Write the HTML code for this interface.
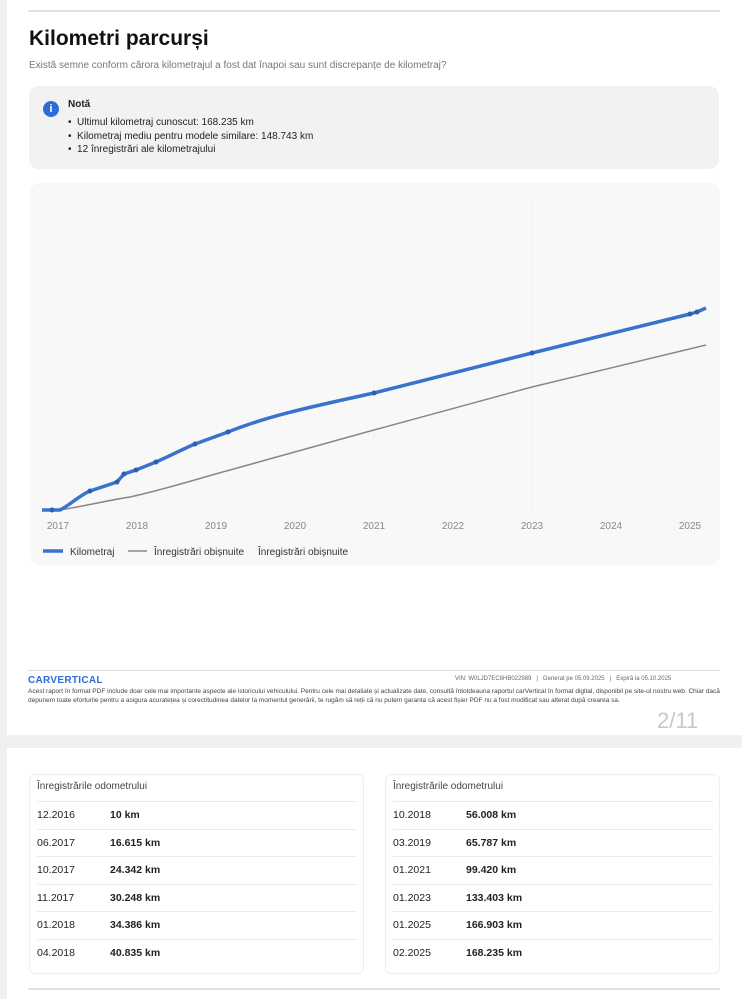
<!DOCTYPE html>
<html><head><meta charset="utf-8"><style>
*{margin:0;padding:0;box-sizing:border-box}
body{width:742px;height:999px;background:#f0f0f0;font-family:"Liberation Sans",sans-serif;position:relative;overflow:hidden;color:#222}
.abs{position:absolute}
.page{position:absolute;background:#fff}
.row{position:absolute;left:0;right:0;height:27px;border-top:1px solid #ececec;font-size:10.5px;line-height:27px}
.row span{position:absolute}
</style></head><body>
<div class="page" style="left:7px;top:0;width:735px;height:735px"></div>
<div class="page" style="left:7px;top:748px;width:735px;height:251px"></div>
<div class="abs" style="left:28px;top:10px;width:692px;height:2px;background:#e2e2e2"></div>
<div class="abs" style="left:29px;top:27px;font-size:21px;font-weight:bold;color:#111">Kilometri parcurși</div>
<div class="abs" style="left:29px;top:60px;font-size:10px;color:#777">Există semne conform cărora kilometrajul a fost dat înapoi sau sunt discrepanțe de kilometraj?</div>
<div class="abs" style="left:29px;top:86px;width:690px;height:83px;background:#f2f2f2;border-radius:10px"></div>
<div class="abs" style="left:43px;top:101px;width:16px;height:16px;border-radius:50%;background:#2f6bd8;color:#fff;font-size:11px;font-weight:bold;text-align:center;line-height:16px">i</div>
<div class="abs" style="left:68px;top:99px;font-size:10px;font-weight:bold">Notă</div>
<div class="abs" style="left:68px;top:116px;font-size:10px;line-height:13.5px">• &nbsp;Ultimul kilometraj cunoscut: 168.235 km<br>• &nbsp;Kilometraj mediu pentru modele similare: 148.743 km<br>• &nbsp;12 înregistrări ale kilometrajului</div>
<div class="abs" style="left:30px;top:183px;width:690px;height:382px;background:#f8f8f8;border-radius:10px"></div>
<svg class="abs" style="left:0;top:0" width="742" height="600">
<g stroke="#f3f3f3" stroke-width="1">
<line x1="58" y1="195" x2="58" y2="512"/><line x1="137" y1="195" x2="137" y2="512"/><line x1="216" y1="195" x2="216" y2="512"/><line x1="295" y1="195" x2="295" y2="512"/><line x1="374" y1="195" x2="374" y2="512"/><line x1="453" y1="195" x2="453" y2="512"/><line x1="532" y1="195" x2="532" y2="512"/><line x1="611" y1="195" x2="611" y2="512"/><line x1="690" y1="195" x2="690" y2="512"/>
</g>
<path d="M60,510 C90,505 110,500 130,497 C170,488 200,478 230,470 L363,433 L532,387 L706,345" fill="none" stroke="#888" stroke-width="1.5"/>
<path d="M42,510 L60,510 C70,505 80,495 90,491 L117,482 L124,474 L136,470 L156,462 C170,456 185,448 195,444 L228,432 C270,415 320,405 374,393 L532,353 L690,314 L697,312 L706,308" fill="none" stroke="#3a73cc" stroke-width="3.5" stroke-linejoin="round"/>
<g fill="#2c5fb0">
<circle cx="52" cy="510" r="2.5"/><circle cx="90" cy="491" r="2.5"/><circle cx="117" cy="482" r="2.5"/><circle cx="124" cy="474" r="2.5"/><circle cx="136" cy="470" r="2.5"/><circle cx="156" cy="462" r="2.5"/><circle cx="195" cy="444" r="2.5"/><circle cx="228" cy="432" r="2.5"/><circle cx="374" cy="393" r="2.5"/><circle cx="532" cy="353" r="2.5"/><circle cx="690" cy="314" r="2.5"/><circle cx="697" cy="312" r="2.5"/>
</g>
<g font-size="10" fill="#888" text-anchor="middle" font-family="Liberation Sans,sans-serif">
<text x="58" y="529">2017</text><text x="137" y="529">2018</text><text x="216" y="529">2019</text><text x="295" y="529">2020</text><text x="374" y="529">2021</text><text x="453" y="529">2022</text><text x="532" y="529">2023</text><text x="611" y="529">2024</text><text x="690" y="529">2025</text>
</g>
<line x1="43" y1="551" x2="63" y2="551" stroke="#3a73cc" stroke-width="3.5"/>
<line x1="128" y1="551" x2="147" y2="551" stroke="#888" stroke-width="1.5"/>
<g font-size="10" fill="#333" font-family="Liberation Sans,sans-serif">
<text x="70" y="555">Kilometraj</text><text x="154" y="555">Înregistrări obișnuite</text><text x="258" y="555">Înregistrări obișnuite</text>
</g>
</svg>
<div class="abs" style="left:28px;top:670px;width:692px;height:1px;background:#ddd"></div>
<div class="abs" style="left:28px;top:675px;font-size:10px;font-weight:bold;color:#2f6bd8;letter-spacing:0.3px">CARVERTICAL</div>
<div class="abs" style="left:455px;top:676px;font-size:6px;color:#666">VIN: W0LJD7EC6HB022989 &nbsp;&nbsp;|&nbsp;&nbsp; Generat pe 05.09.2025 &nbsp;&nbsp;|&nbsp;&nbsp; Expiră la 05.10.2025</div>
<div class="abs" style="left:28px;top:688px;width:692px;font-size:6.5px;line-height:8.5px;color:#444">Acest raport în format PDF include doar cele mai importante aspecte ale istoricului vehiculului. Pentru cele mai detaliate și actualizate date, consultă întotdeauna raportul carVertical în format digital, disponibil pe site-ul nostru web. Chiar dacă depunem toate eforturile pentru a asigura acuratețea și corectitudinea datelor la momentul generării, te rugăm să reții că nu putem garanta că acest fișier PDF nu a fost modificat sau alterat după crearea sa.</div>
<div class="abs" style="left:657px;top:708px;font-size:22px;color:#c8c8c8">2/11</div>

<div class="abs" style="left:29px;top:774px;width:335px;height:200px;border:1px solid #eee;border-radius:6px">
<div class="abs" style="left:7px;top:6px;font-size:10px;color:#444">Înregistrările odometrului</div>
<div class="abs" style="left:7px;top:26px;width:320px;height:170px">
<div class="row" style="top:0"><span>12.2016</span><span style="left:73px;font-weight:bold">10 km</span></div>
<div class="row" style="top:28px"><span>06.2017</span><span style="left:73px;font-weight:bold">16.615 km</span></div>
<div class="row" style="top:55px"><span>10.2017</span><span style="left:73px;font-weight:bold">24.342 km</span></div>
<div class="row" style="top:83px"><span>11.2017</span><span style="left:73px;font-weight:bold">30.248 km</span></div>
<div class="row" style="top:110px"><span>01.2018</span><span style="left:73px;font-weight:bold">34.386 km</span></div>
<div class="row" style="top:138px"><span>04.2018</span><span style="left:73px;font-weight:bold">40.835 km</span></div>
</div></div>
<div class="abs" style="left:385px;top:774px;width:335px;height:200px;border:1px solid #eee;border-radius:6px">
<div class="abs" style="left:7px;top:6px;font-size:10px;color:#444">Înregistrările odometrului</div>
<div class="abs" style="left:7px;top:26px;width:320px;height:170px">
<div class="row" style="top:0"><span>10.2018</span><span style="left:73px;font-weight:bold">56.008 km</span></div>
<div class="row" style="top:28px"><span>03.2019</span><span style="left:73px;font-weight:bold">65.787 km</span></div>
<div class="row" style="top:55px"><span>01.2021</span><span style="left:73px;font-weight:bold">99.420 km</span></div>
<div class="row" style="top:83px"><span>01.2023</span><span style="left:73px;font-weight:bold">133.403 km</span></div>
<div class="row" style="top:110px"><span>01.2025</span><span style="left:73px;font-weight:bold">166.903 km</span></div>
<div class="row" style="top:138px"><span>02.2025</span><span style="left:73px;font-weight:bold">168.235 km</span></div>
</div></div>
<div class="abs" style="left:28px;top:988px;width:692px;height:2px;background:#e2e2e2"></div>
</body></html>
